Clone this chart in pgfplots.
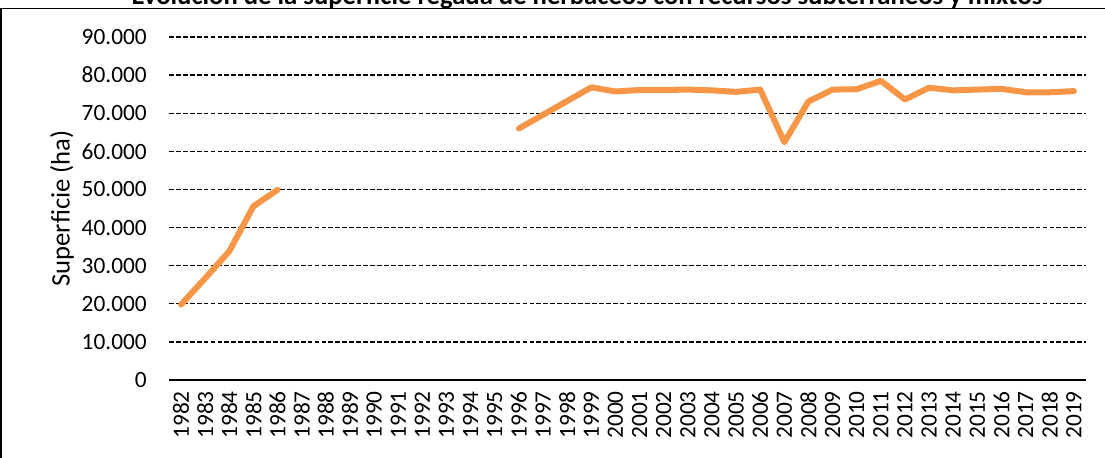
\documentclass[border=0pt]{standalone}
\usepackage{fontspec}
\setmainfont{Carlito}
\usepackage{pgfplots}
\pgfplotsset{compat=1.18}
\definecolor{excelorange}{RGB}{247,150,70}

\begin{document}
% 1 px of the reference = 0.75pt; y measured from the bottom (457 px high)
\begin{tikzpicture}
\begin{axis}[
  at={(126.75pt,57.75pt)}, anchor=south west,
  scale only axis, width=687.75pt, height=257.25pt,
  xmin=1981.5, xmax=2019.5, ymin=0, ymax=90000,
  xtick={1982,...,2019},
  ytick={0,10000,...,90000},
  axis x line*=bottom, axis y line*=left,
  x axis line style={-, black, line width=1.3pt},
  y axis line style={draw=none},
  major tick length=0pt,
  ymajorgrids,
  grid style={black, line width=1pt, dash pattern=on 3.6pt off 1.6pt},
  x tick label style={/pgf/number format/1000 sep={}, rotate=90, anchor=east, inner sep=0pt, font=\fontsize{17.5}{20}\selectfont},
  y tick label style={/pgf/number format/1000 sep={.}, anchor=east, inner sep=0pt, font=\fontsize{17.5}{20}\selectfont},
  /pgf/number format/assume math mode=true,
  xticklabel shift=8.25pt, yticklabel shift=16.5pt,
  scaled y ticks=false,
  ylabel={Superficie (ha)},
  ylabel style={at={(axis description cs:-0.1167,0.5)}, anchor=center, rotate=0, font=\fontsize{20}{24}\selectfont},
  unbounded coords=jump,
  clip=false,
]
\addplot[excelorange, line width=4.5pt, line join=round, line cap=round] coordinates {
 (1982,19800) (1983,26700) (1984,33800) (1985,45600) (1986,49900)
 (1987,nan) (1988,nan) (1989,nan) (1990,nan) (1991,nan) (1992,nan) (1993,nan) (1994,nan) (1995,nan)
 (1996,66000) (1997,69600) (1998,73200) (1999,76800) (2000,75700) (2001,76100) (2002,76100)
 (2003,76200) (2004,76000) (2005,75600) (2006,76200) (2007,62400) (2008,73100) (2009,76200)
 (2010,76300) (2011,78500) (2012,73600) (2013,76700) (2014,76000) (2015,76200) (2016,76400)
 (2017,75500) (2018,75500) (2019,75800)
};
\end{axis}
\node[anchor=base, font=\fontsize{20}{24}\selectfont\bfseries] at (440.25pt,339.5pt) {Evolución de la superficie regada de herbáceos con recursos subterráneos y mixtos};
\draw[black, line width=1.2pt] (0.75pt,-10pt) -- (0.75pt,336.5pt) -- (835pt,336.5pt);
\pgfresetboundingbox
\useasboundingbox (0pt,0pt) rectangle (828.75pt,342.75pt);
\end{tikzpicture}
\end{document}
